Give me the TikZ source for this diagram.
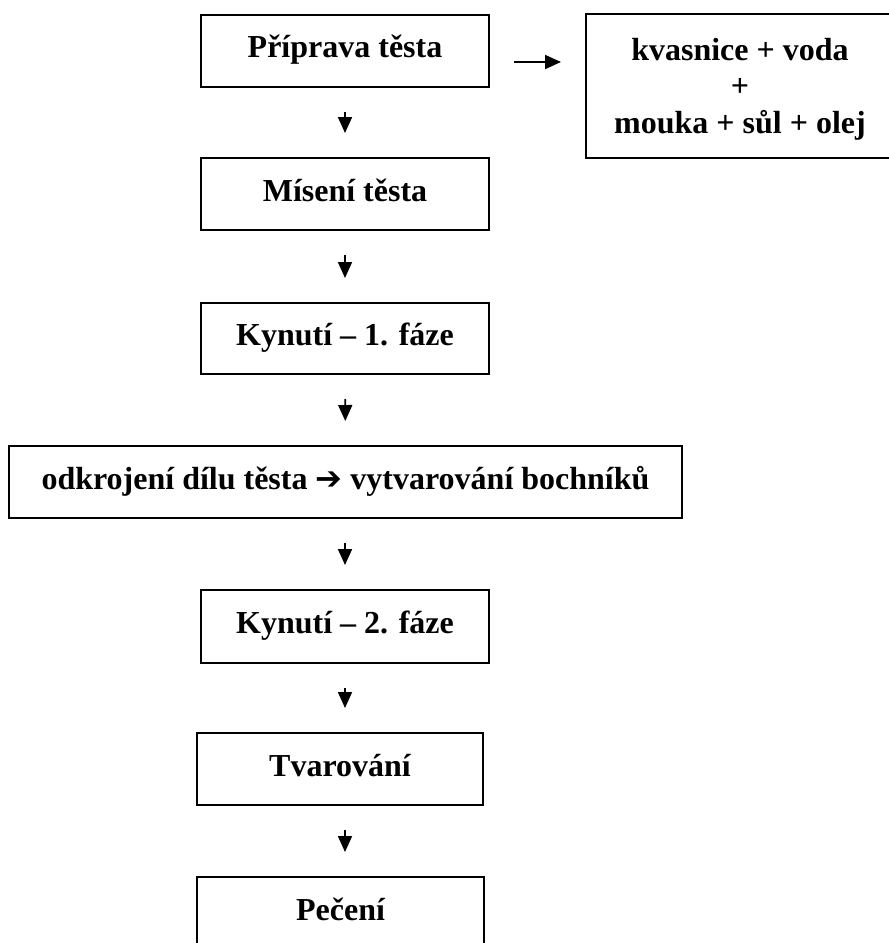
\documentclass[tikz,border=0pt]{standalone}
\usepackage{fontspec}
\setmainfont{Liberation Serif}
\newfontfamily\symfont{DejaVu Sans}
\usetikzlibrary{arrows.meta}
\begin{document}
\begin{tikzpicture}[x=0.5pt,y=-0.5pt,
    box/.style={draw,line width=1pt,inner sep=0pt,minimum width=144pt,minimum height=36pt,
      font=\fontsize{16}{18.25}\selectfont\bfseries,text height=12.5pt,text depth=5.5pt},
    flow/.style={-{Triangle[length=8pt,width=7pt]},line width=0.9pt,shorten <=12pt,shorten >=12pt}]
  \useasboundingbox (0,0) rectangle (889,943);
  \clip (0,0) rectangle (889,943);
  \node[box] (prip) at (345,50.5) {Příprava těsta};
  \node[draw,line width=1pt,inner sep=0pt,minimum width=154pt,minimum height=72pt,align=center,
    font=\fontsize{16}{18.25}\selectfont\bfseries] (kvas) at (740,86) {\rule{0pt}{14pt}kvasnice + voda\\+\\mouka + sůl + olej};
  \node[box] (mis) at (345,194) {Mísení těsta};
  \node[box,minimum height=35.5pt] (kyn1) at (345,338.5) {Kynutí – 1. fáze};
  \node[box,minimum width=336.5pt] (odkr) at (345.5,482) {odkrojení dílu těsta {\symfont\bfseries ➔} vytvarování bochníků};
  \node[box,minimum height=36.5pt] (kyn2) at (345,626.5) {Kynutí – 2. fáze};
  \node[box,minimum width=143pt] (tvar) at (340,769) {Tvarování};
  \node[box,minimum width=143.5pt] (pec) at (340.5,913) {Pečení};
  \draw[flow] ([yshift=-5.75pt]prip.east) -- ([yshift=-5.75pt]prip.east -| kvas.west);
  \draw[flow] (prip) -- (mis);
  \draw[flow] (mis) -- (kyn1);
  \draw[flow] (kyn1) -- (odkr);
  \draw[flow] (odkr.south -| kyn2) -- (kyn2);
  \draw[flow] (kyn2) -- (kyn2 |- tvar.north);
  \draw[flow] (kyn2 |- tvar.south) -- (kyn2 |- pec.north);
\end{tikzpicture}
\end{document}
